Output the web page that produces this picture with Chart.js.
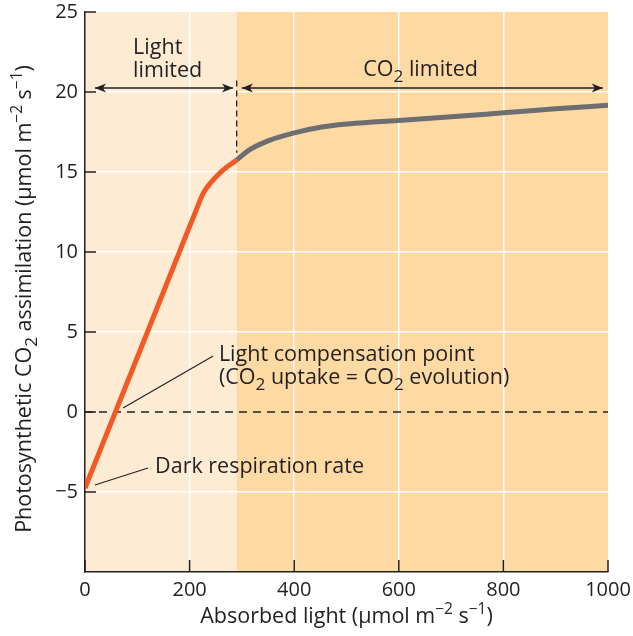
<!DOCTYPE html>
<html>
<head>
<meta charset="utf-8">
<script src="https://cdn.jsdelivr.net/npm/chart.js@4.4.1/dist/chart.umd.min.js"></script>
<style>
  html, body { margin: 0; padding: 0; background: #fff; }
  #wrap { width: 633px; height: 636px; }
</style>
</head>
<body>
<div id="wrap"><canvas id="myChart" width="633" height="636"></canvas></div>
<script>
// Datos
const lightX = [0, 60, 120, 180, 213, 226, 242, 264, 290];
const lightY = [-4.75, 0.15, 5.05, 9.96, 12.65, 13.66, 14.39, 15.12, 15.75];
const co2X = [315, 350, 400, 450, 500, 550, 600, 700, 800, 900, 1000];
const co2Y = [16.4, 16.95, 17.45, 17.8, 18.0, 18.12, 18.22, 18.45, 18.7, 18.95, 19.17];
const xTicks = [0, 200, 400, 600, 800, 1000];
const yTicks = [-5, 0, 5, 10, 15, 20, 25];
const limitX = 290; // frontera luz / CO2

const FONT = "'Open Sans', sans-serif";
const INK = '#231f20';
const FS = 21.5;
const ORANGE = '#f15a24';
const GREY = '#6d6e71';

// Texto con subíndices / superíndices
function richWidth(ctx, parts, size) {
    let w = 0;
    parts.forEach(p => {
        const txt = typeof p === 'string' ? p : p[0];
        const kind = typeof p === 'string' ? null : p[1];
        ctx.font = (kind === 'sub' ? size * 0.8 : kind === 'sup' ? size * 0.72 : size) + 'px ' + FONT;
        w += ctx.measureText(txt).width;
    });
    return w;
}
function drawRich(ctx, parts, x, y, size) {
    let cx = x;
    parts.forEach(p => {
        const txt = typeof p === 'string' ? p : p[0];
        const kind = typeof p === 'string' ? null : p[1];
        const s = kind === 'sub' ? size * 0.8 : kind === 'sup' ? size * 0.72 : size;
        const dy = kind === 'sub' ? size * 0.27 : kind === 'sup' ? -size * 0.4 : 0;
        ctx.font = s + 'px ' + FONT;
        ctx.fillText(txt, cx, y + dy);
        cx += ctx.measureText(txt).width;
    });
}

function arrowHead(ctx, x, y, dir) {
    ctx.beginPath();
    ctx.moveTo(x, y);
    ctx.lineTo(x - dir * 11, y - 4.5);
    ctx.lineTo(x - dir * 8, y);
    ctx.lineTo(x - dir * 11, y + 4.5);
    ctx.closePath();
    ctx.fill();
}

const units = [' (\u03bcmol m', ['\u22122', 'sup'], ' s', ['\u22121', 'sup'], ')'];
const xTitle = ['Absorbed light'].concat(units);
const yTitle = ['Photosynthetic CO', ['2', 'sub'], ' assimilation'].concat(units);

const figurePlugin = {
    id: 'figure',
    beforeDraw(chart) {
        const { ctx, chartArea: a, scales: { x } } = chart;
        const xb = x.getPixelForValue(limitX);
        ctx.save();
        ctx.fillStyle = '#fdebd4';
        ctx.fillRect(a.left, a.top, xb - a.left, a.bottom - a.top);
        ctx.fillStyle = '#fdd9a3';
        ctx.fillRect(xb, a.top, a.right - xb, a.bottom - a.top);
        ctx.restore();
    },
    beforeDatasetsDraw(chart) {
        const { ctx, chartArea: a, scales: { x, y } } = chart;
        ctx.save();
        ctx.strokeStyle = INK;
        ctx.lineWidth = 1.3;
        // línea de cero discontinua
        ctx.setLineDash([8, 6]);
        ctx.beginPath();
        ctx.moveTo(a.left, y.getPixelForValue(0));
        ctx.lineTo(a.right, y.getPixelForValue(0));
        ctx.stroke();
        // línea vertical discontinua
        ctx.setLineDash([6, 4]);
        ctx.beginPath();
        ctx.moveTo(x.getPixelForValue(limitX), y.getPixelForValue(20.72));
        ctx.lineTo(x.getPixelForValue(limitX), y.getPixelForValue(16.2));
        ctx.stroke();
        ctx.setLineDash([]);
        // marcas de los ejes hacia dentro
        ctx.lineWidth = 1.5;
        yTicks.forEach(v => {
            const py = y.getPixelForValue(v);
            ctx.beginPath(); ctx.moveTo(a.left, py); ctx.lineTo(a.left + 11, py); ctx.stroke();
        });
        xTicks.forEach(v => {
            const px = x.getPixelForValue(v);
            ctx.beginPath(); ctx.moveTo(px, a.bottom); ctx.lineTo(px, a.bottom - 12); ctx.stroke();
        });
        ctx.restore();
    },
    afterDatasetsDraw(chart) {
        const { ctx, chartArea: a, scales: { x, y } } = chart;
        const X = v => x.getPixelForValue(v);
        const Y = v => y.getPixelForValue(v);
        ctx.save();
        ctx.strokeStyle = INK;
        ctx.fillStyle = INK;
        ctx.lineWidth = 1.3;
        // flechas
        const ay = Y(20.25);
        ctx.beginPath(); ctx.moveTo(X(19), ay); ctx.lineTo(X(283), ay); ctx.stroke();
        arrowHead(ctx, X(19), ay, -1);
        arrowHead(ctx, X(283), ay, 1);
        ctx.beginPath(); ctx.moveTo(X(300), ay); ctx.lineTo(X(990), ay); ctx.stroke();
        arrowHead(ctx, X(300), ay, -1);
        arrowHead(ctx, X(990), ay, 1);
        // líneas guía
        ctx.lineWidth = 1.1;
        ctx.beginPath(); ctx.moveTo(X(245), Y(3.5)); ctx.lineTo(X(72.7), Y(0.25)); ctx.stroke();
        ctx.beginPath(); ctx.moveTo(X(120.5), Y(-3.5)); ctx.lineTo(X(19), Y(-4.56)); ctx.stroke();
        // textos
        ctx.textBaseline = 'alphabetic';
        ctx.textAlign = 'left';
        drawRich(ctx, ['Light'], X(92), Y(22.4), FS);
        drawRich(ctx, ['limited'], X(92), Y(20.94), FS);
        drawRich(ctx, ['CO', ['2', 'sub'], ' limited'], X(532), Y(21.0), FS);
        drawRich(ctx, ['Light compensation point'], X(256), Y(3.19), FS);
        drawRich(ctx, ['(CO', ['2', 'sub'], ' uptake = CO', ['2', 'sub'], ' evolution)'], X(256), Y(1.73), FS);
        drawRich(ctx, ['Dark respiration rate'], X(134), Y(-3.8), FS);

        // títulos de los ejes
        const xw = richWidth(ctx, xTitle, FS);
        drawRich(ctx, xTitle, (a.left + a.right) / 2 - xw / 2, 623, FS);
        const yw = richWidth(ctx, yTitle, FS);
        ctx.translate(31, 299);
        ctx.rotate(-Math.PI / 2);
        drawRich(ctx, yTitle, -yw / 2, 0, FS);
        ctx.restore();
    }
};

// Una sola curva: naranja hasta la frontera, gris después
const curve = lightX.map((v, i) => ({ x: v, y: lightY[i] }))
    .concat(co2X.map((v, i) => ({ x: v, y: co2Y[i] })));

const ctx = document.getElementById('myChart').getContext('2d');
const myChart = new Chart(ctx, {
    type: 'line',
    data: {
        datasets: [{
            label: 'CO2 assimilation',
            data: curve,
            borderColor: ORANGE,
            segment: {
                borderColor: c => c.p0.parsed.x >= limitX ? GREY : ORANGE
            },
            borderWidth: 5,
            borderCapStyle: 'butt',
            cubicInterpolationMode: 'monotone',
            pointRadius: 0
        }]
    },
    options: {
        responsive: false,
        animation: false,
        layout: { padding: { top: 12, right: 25, left: 0, bottom: 0 } },
        plugins: { legend: { display: false }, tooltip: { enabled: false } },
        scales: {
            x: {
                type: 'linear', min: 0, max: 1000,
                afterFit: s => { s.height = 64; s.paddingLeft = 0; s.paddingRight = 0; },
                afterBuildTicks: s => { s.ticks = xTicks.map(v => ({ value: v })); },
                ticks: {
                    color: INK, font: { family: FONT, size: 20 }, padding: 6, maxRotation: 0,
                    callback: v => String(v)
                },
                grid: {
                    drawTicks: false,
                    color: c => (c.tick && (c.tick.value === 0 || c.tick.value === 1000)) ? 'rgba(0,0,0,0)' : '#ffffff',
                    lineWidth: 1.5
                },
                border: { display: true, color: INK, width: 1.5 }
            },
            y: {
                type: 'linear', min: -10, max: 25,
                afterFit: s => { s.width = 85; s.paddingTop = 0; s.paddingBottom = 0; },
                afterBuildTicks: s => { s.ticks = yTicks.map(v => ({ value: v })); },
                ticks: {
                    color: INK, font: { family: FONT, size: 20 }, padding: 7,
                    callback: v => v < 0 ? '\u2212' + Math.abs(v) : String(v)
                },
                grid: {
                    drawTicks: false,
                    color: c => (c.tick && (c.tick.value === 0 || c.tick.value === 25)) ? 'rgba(0,0,0,0)' : '#ffffff',
                    lineWidth: 1.5
                },
                border: { display: true, color: INK, width: 1.5 }
            }
        }
    },
    plugins: [figurePlugin]
});
</script>
</body>
</html>
